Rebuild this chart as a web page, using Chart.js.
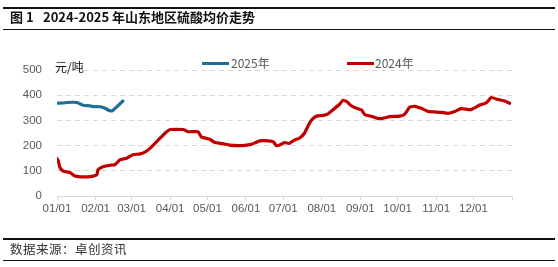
<!DOCTYPE html>
<html>
<head>
<meta charset="utf-8">
<script src="https://cdn.jsdelivr.net/npm/chart.js@4"></script>
<style>
  html, body { margin: 0; padding: 0; background: #fff; }
  #wrap { position: relative; width: 558px; height: 267px; overflow: hidden; font-family: "Noto Sans CJK SC", sans-serif; }
  #wrap canvas { position: absolute; left: 0; top: 0; }
  .rule { position: absolute; left: 3px; width: 552px; height: 1.5px; background: #111; }
  .txt { position: absolute; white-space: nowrap; line-height: 1; }
  .legLine { position: absolute; height: 3px; }
</style>
</head>
<body>
<div id="wrap">
  <canvas id="priceChart" width="558" height="267"></canvas>
  <div class="rule" style="top:7px"></div>
  <div class="rule" style="top:28.5px"></div>
  <div class="txt" style="left:10px;top:10px;font-size:13px;font-weight:bold;color:#111">图 1</div>
  <div class="txt" style="left:43px;top:10px;font-size:13px;font-weight:bold;color:#111">2024-2025 年山东地区硫酸均价走势</div>

  <div class="txt" style="left:55px;top:61px;font-size:12px;color:#111">元/吨</div>

  <div class="legLine" style="left:202px;top:61.5px;width:27px;background:#1F6F96"></div>
  <div class="txt" style="left:231px;top:57px;font-size:12px;color:#595959">2025年</div>
  <div class="legLine" style="left:347px;top:61.5px;width:27px;background:#C00000"></div>
  <div class="txt" style="left:375px;top:57px;font-size:12px;color:#595959">2024年</div>

  <div class="rule" style="top:238px"></div>
  <div class="rule" style="top:259.5px"></div>
  <div class="txt" style="left:10px;top:243px;font-size:12.5px;color:#333;letter-spacing:0.5px">数据来源：卓创资讯</div>
</div>
<script>
// day of year (0 = 01/01) and price
var days2024 = [0, 1, 2.4, 5, 8, 10.5, 14.5, 18.5, 24, 29, 32, 33, 37, 42.6, 46.6, 50.6, 56, 61, 67, 71, 75, 80, 85, 88, 91,
    101.5, 105.5, 113.5, 116, 123, 127, 132, 139, 146, 152.5, 156.5, 163, 170, 174, 176.5, 179, 183, 187, 191, 195, 199,
    203, 205.6, 208.7, 214, 218, 222, 227.5, 230, 233, 237, 241, 245, 247.6, 253, 258, 262, 267.7, 275.7, 279.7, 283.8,
    287.8, 293, 298.5, 309, 314.5, 320, 325, 333, 340, 345.4, 349.4, 354.7, 360, 364];
var price2024 = [148, 140, 112, 99, 95, 93, 79, 76, 76, 79, 84, 104, 116, 122, 124, 143, 150, 164, 167, 175, 190, 215, 240, 254, 264,
    264, 255, 255, 235, 225, 212, 209, 202, 200, 202, 205, 219, 219, 215, 200, 202, 212, 209, 222, 229, 249,
    288, 306, 317, 320, 326, 342, 365, 380, 375, 357, 348, 341, 323, 316, 308, 308, 315, 317, 325, 353,
    356, 348, 336, 332, 328, 335, 347, 343, 361, 370, 391, 383, 377, 368];

var days2025 = [0, 5, 8, 13, 16, 21, 26, 29, 35, 38.6, 42.6, 45, 49, 53];
var price2025 = [368, 369, 371, 372, 371, 360, 358, 355, 354, 348, 338, 340, 358, 377];

var monthStarts = [0, 31, 60, 91, 121, 152, 182, 213, 244, 274, 305, 335, 366];
var monthLabels = ['01/01', '02/01', '03/01', '04/01', '05/01', '06/01', '07/01', '08/01', '09/01', '10/01', '11/01', '12/01', ''];

var yTicks = [0, 100, 200, 300, 400, 500];

function toPoints(xs, ys) {
    return xs.map(function(x, i) { return { x: x, y: ys[i] }; });
}

var ctx = document.getElementById('priceChart').getContext('2d');
new Chart(ctx, {
    type: 'line',
    data: {
        datasets: [
            {
                label: '2024年',
                data: toPoints(days2024, price2024),
                borderColor: '#C00000',
                borderWidth: 3.2,
                pointRadius: 0,
                tension: 0.15,
                borderJoinStyle: 'round',
                borderCapStyle: 'round'
            },
            {
                label: '2025年',
                data: toPoints(days2025, price2025),
                borderColor: '#1F6F96',
                borderWidth: 3.2,
                pointRadius: 0,
                tension: 0.15,
                borderJoinStyle: 'round',
                borderCapStyle: 'round'
            }
        ]
    },
    options: {
        responsive: false,
        animation: false,
        layout: { padding: { left: 0, top: 70, right: 46, bottom: 51 } },
        plugins: { legend: { display: false }, tooltip: { enabled: false } },
        scales: {
            x: {
                type: 'linear',
                min: 0,
                max: 366,
                afterBuildTicks: function(scale) {
                    scale.ticks = monthStarts.map(function(v) { return { value: v }; });
                },
                afterFit: function(scale) { scale.height = 20; },
                grid: { drawOnChartArea: false, drawTicks: true, tickLength: 4, color: '#d9d9d9' },
                border: { display: true, color: '#d9d9d9' },
                ticks: {
                    autoSkip: false,
                    maxRotation: 0,
                    padding: 2,
                    color: '#595959',
                    font: { family: 'Liberation Sans', size: 11.5 },
                    callback: function(v, i) { return monthLabels[i]; }
                }
            },
            y: {
                min: 0,
                max: 500,
                afterBuildTicks: function(scale) {
                    scale.ticks = yTicks.map(function(v) { return { value: v }; });
                },
                afterFit: function(scale) { scale.width = 57; },
                grid: {
                    drawTicks: false,
                    color: function(c) { return c.tick && c.tick.value === 0 ? 'rgba(0,0,0,0)' : '#d9d9d9'; }
                },
                border: { display: false, dash: [5, 4] },
                ticks: {
                    padding: 15,
                    color: '#595959',
                    font: { family: 'Liberation Sans', size: 11.5 }
                }
            }
        }
    }
});
</script>
</body>
</html>
